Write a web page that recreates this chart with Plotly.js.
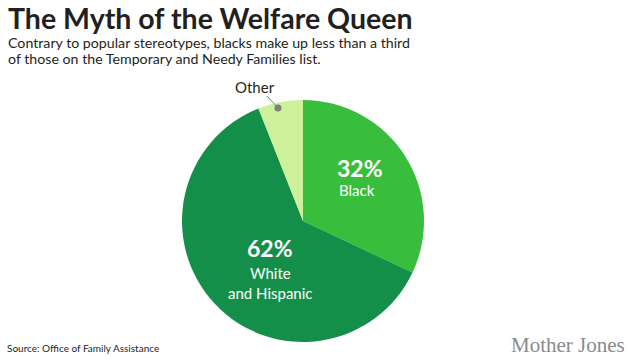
<!DOCTYPE html>
<html><head><meta charset="utf-8">
<script src="https://cdn.plot.ly/plotly-3.0.1.min.js"></script>
<style>html,body{margin:0;padding:0;background:#fff;}#chart{width:630px;height:363px;}</style>
</head><body><div id="chart"></div>
<script>
const groups = ["Black", "White and Hispanic", "Other"];
const shares = [32, 62, 6];
const sliceColors = ["#38be3c", "#148f4a", "#cdf09b"];
const title = "The Myth of the Welfare Queen";
const subtitleLines = ["Contrary to popular stereotypes, blacks make up less than a third", "of those on the Temporary and Needy Families list."];
const source = "Source: Office of Family Assistance";
const brand = "Mother Jones";

const W = 630, H = 363;
const px = (x) => x / W, py = (y) => 1 - y / H;
const F = "Lato";

const trace = {
  type: "pie",
  labels: groups,
  values: shares,
  sort: false,
  direction: "clockwise",
  rotation: 0,
  marker: {colors: sliceColors, line: {color: "#ffffff", width: 0}},
  textinfo: "none",
  hoverinfo: "label+percent",
  showlegend: false,
  domain: {x: [px(182), px(424)], y: [py(342), py(100)]}
};

const annotations = [
  {x: px(7), y: py(18), xanchor: "left", text: "<b>" + title + "</b>",
   font: {family: F, size: 28.5, weight: 900, color: "#231f20"}},
  {x: px(7), y: py(42), xanchor: "left", text: subtitleLines[0], font: {family: F, size: 14.2, color: "#231f20"}},
  {x: px(7), y: py(59), xanchor: "left", text: subtitleLines[1], font: {family: F, size: 14.2, color: "#231f20"}},
  {x: px(360), y: py(168), text: "<b>" + shares[0] + "%</b>", font: {family: F, size: 23, color: "#fff"}},
  {x: px(357), y: py(190), text: groups[0], font: {family: F, size: 15, color: "#fff"}},
  {x: px(270), y: py(248), text: "<b>" + shares[1] + "%</b>", font: {family: F, size: 23, color: "#fff"}},
  {x: px(270), y: py(273), text: "White", font: {family: F, size: 15, color: "#fff"}},
  {x: px(270), y: py(293), text: "and Hispanic", font: {family: F, size: 15, color: "#fff"}},
  {x: px(255), y: py(87), text: groups[2], font: {family: F, size: 15, color: "#231f20"}},
  {x: px(6), y: py(348), xanchor: "left", text: source, font: {family: F, size: 10, color: "#231f20"}},
  {x: px(626), y: py(345), xanchor: "right", text: brand, font: {family: "Liberation Serif", size: 21, color: "#8a8a8a"}}
].map(a => Object.assign({xref: "paper", yref: "paper", showarrow: false, borderpad: 0, xanchor: "center", yanchor: "middle"}, a));

const shapes = [
  {type: "line", xref: "paper", yref: "paper", x0: px(267), y0: py(96), x1: px(278), y1: py(108), line: {color: "#808080", width: 1}},
  {type: "circle", xref: "paper", yref: "paper", x0: px(274.5), y0: py(104.5), x1: px(281.5), y1: py(111.5), fillcolor: "#808080", line: {width: 0}}
];

Plotly.newPlot("chart", [trace], {
  width: W, height: H, margin: {l: 0, r: 0, t: 0, b: 0},
  paper_bgcolor: "#fff", annotations, shapes
}, {displayModeBar: false, staticPlot: true});
</script></body></html>
